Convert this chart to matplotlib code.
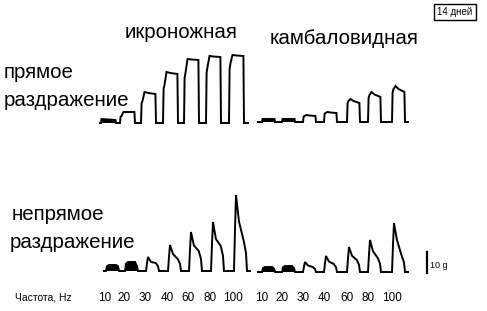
import matplotlib.pyplot as plt

plt.rcParams['font.family'] = ['Liberation Sans', 'DejaVu Sans']

# частоты стимуляции
freqs = ['10', '20', '30', '40', '60', '80', '100']
label_x_left = [105, 124, 145, 167, 188, 210, 233]
label_x_right = [262, 282, 303, 324, 347, 368, 392]

# амплитуды сокращений (px на рисунке): начало, пик, конец пачки
# прямое раздражение
gastro_direct_on = [3, 7, 22, 38, 50, 56, 60]
gastro_direct_peak = [4, 11, 31, 51, 64, 67, 68]
gastro_direct_end = [3, 11, 29, 49, 63, 66, 67]
soleus_direct_on = [3, 3, 6, 9, 21, 27, 33]
soleus_direct_peak = [3, 3, 7, 10, 23, 30, 36]
soleus_direct_end = [3, 3, 6, 9, 19, 25, 30]
# непрямое раздражение
gastro_indirect_peak = [6, 9, 14, 26, 39, 49, 76]
gastro_indirect_end = [6, 6, 8, 12, 20, 25, 30]
soleus_indirect_peak = [5, 6, 10, 16, 25, 32, 49]
soleus_indirect_end = [4, 5, 5, 8, 12, 14, 16]

fig = plt.figure(figsize=(4.87, 3.11), dpi=100)
ax = fig.add_axes([0, 0, 1, 1])
ax.set_xlim(0, 487)
ax.set_ylim(311, 0)
ax.axis('off')


def plateau_trace(xs, base, on, peak, end, x_start, x_stop, shift, w, fill_n):
    px, py = [x_start], [base]
    for i, (x, a0, a1, a2) in enumerate(zip(xs, on, peak, end)):
        x0 = x + shift
        if i < fill_n:
            bx = [x0, x0 + 0.5, x0 + w - 0.5, x0 + w]
            by = [base, base - a1, base - a2, base]
            ax.fill(bx, by, color='black', lw=0)
        else:
            bx = [x0, x0 + 0.6, x0 + 1.5, x0 + 3.5, x0 + w * 0.5, x0 + w - 0.6, x0 + w]
            by = [base, base - a0 * 0.9, base - a0, base - a1, base - (a1 + a2) / 2,
                  base - a2, base]
        px += bx
        py += by
    px.append(x_stop)
    py.append(base)
    ax.plot(px, py, color='black', lw=1.4, solid_joinstyle='miter')


def twitch_trace(xs, base, peak, end, x_start, x_stop, shift, w, fill_n=2):
    px, py = [x_start], [base]
    for i, (x, a1, a2) in enumerate(zip(xs, peak, end)):
        x0 = x + shift
        if i < fill_n:
            bx = [x0, x0 + 1, x0 + 3, x0 + w - 3, x0 + w - 1, x0 + w]
            by = [base, base - a1 * 0.8, base - a1, base - a1, base - a2 * 0.8, base]
            ax.fill(bx, by, color='black', lw=0)
        else:
            bx = [x0, x0 + 1, x0 + 2, x0 + 3.5, x0 + 5, x0 + w * 0.75, x0 + w - 1, x0 + w]
            by = [base, base - a1 * 0.55, base - a1, base - a1 * 0.82, base - a1 * 0.65,
                  base - a2, base - a2 * 0.6, base]
        px += bx
        py += by
    px.append(x_stop)
    py.append(base)
    ax.plot(px, py, color='black', lw=1.4, solid_joinstyle='miter')


plateau_trace(label_x_left, 123, gastro_direct_on, gastro_direct_peak, gastro_direct_end,
              100, 248, shift=-4, w=15, fill_n=1)
plateau_trace(label_x_right, 122, soleus_direct_on, soleus_direct_peak, soleus_direct_end,
              258, 408, shift=0, w=13, fill_n=2)
twitch_trace(label_x_left, 271, gastro_indirect_peak, gastro_indirect_end, 104, 250,
             shift=1, w=13)
twitch_trace(label_x_right, 272, soleus_indirect_peak, soleus_indirect_end, 258, 408,
             shift=0, w=13)

# масштаб 10 g
ax.plot([427, 427], [252, 273], color='black', lw=1.6)
ax.text(430, 266, '10 g', fontsize=6.5, va='center', ha='left')

big = 14.8
ax.text(125, 33, 'икроножная', fontsize=big, va='center', ha='left')
ax.text(270, 38, 'камбаловидная', fontsize=big, va='center', ha='left')
ax.text(4, 72, 'прямое', fontsize=big, va='center', ha='left')
ax.text(4, 100, 'раздражение', fontsize=big, va='center', ha='left')
ax.text(12, 215, 'непрямое', fontsize=big, va='center', ha='left')
ax.text(10, 243, 'раздражение', fontsize=big, va='center', ha='left')

ax.text(455, 12, '14 дней', fontsize=7, va='center', ha='center',
        bbox=dict(boxstyle='square,pad=0.35', fc='white', ec='black', lw=1))

ax.text(15, 298, 'Частота, Hz', fontsize=7.5, va='center', ha='left',
        family=['Liberation Sans Narrow', 'Liberation Sans'])
for x, f in zip(label_x_left + label_x_right, freqs + freqs):
    ax.text(x, 298, f, fontsize=8.5, va='center', ha='center',
            family=['Liberation Sans Narrow', 'Liberation Sans'])

fig.savefig('out.png', dpi=100)
